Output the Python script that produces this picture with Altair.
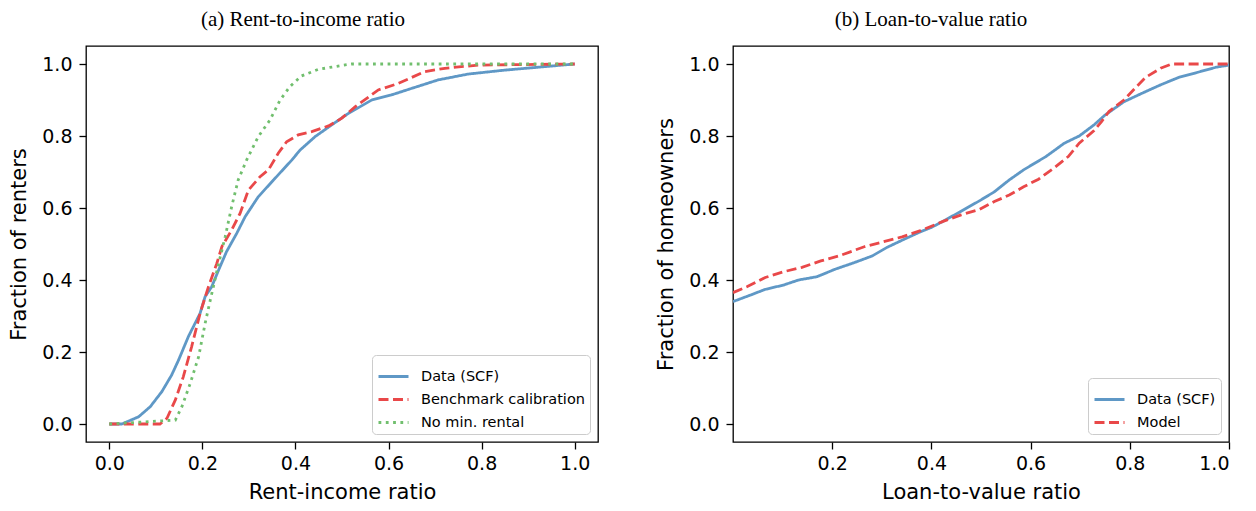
import altair as alt
import pandas as pd

# ---------- Panel (a): Rent-to-income ratio ----------
scf_a_x = [0.0, 0.027, 0.063, 0.088, 0.113, 0.134, 0.149, 0.170, 0.195, 0.206, 0.220, 0.235,
           0.252, 0.274, 0.292, 0.320, 0.353, 0.392, 0.410, 0.442, 0.478, 0.514, 0.564,
           0.606, 0.649, 0.707, 0.771, 0.850, 0.921, 1.0]
scf_a_y = [0.0, 0.0, 0.02, 0.048, 0.09, 0.136, 0.178, 0.243, 0.307, 0.354, 0.381, 0.428,
           0.479, 0.530, 0.576, 0.631, 0.678, 0.733, 0.761, 0.798, 0.831, 0.863, 0.900,
           0.914, 0.932, 0.956, 0.972, 0.983, 0.991, 1.0]

bench_x = [0.0, 0.109, 0.124, 0.142, 0.159, 0.177, 0.195, 0.213, 0.231, 0.242, 0.263, 0.281,
           0.299, 0.324, 0.342, 0.363, 0.381, 0.406, 0.435, 0.471, 0.499, 0.528, 0.578,
           0.621, 0.678, 0.721, 0.792, 1.0]
bench_y = [0.0, 0.0, 0.016, 0.067, 0.131, 0.215, 0.307, 0.381, 0.446, 0.493, 0.539, 0.585,
           0.650, 0.687, 0.706, 0.752, 0.784, 0.803, 0.812, 0.828, 0.849, 0.881, 0.928,
           0.946, 0.979, 0.988, 0.997, 1.0]

nomin_x = [0.0, 0.142, 0.156, 0.174, 0.192, 0.206, 0.217, 0.235, 0.249, 0.263, 0.277, 0.295,
           0.320, 0.345, 0.367, 0.388, 0.413, 0.449, 0.499, 0.520, 1.0]
nomin_y = [0.0, 0.011, 0.048, 0.113, 0.187, 0.280, 0.344, 0.446, 0.520, 0.604, 0.678, 0.733,
           0.798, 0.844, 0.900, 0.937, 0.967, 0.985, 0.996, 1.0, 1.0]

# ---------- Panel (b): Loan-to-value ratio ----------
scf_b_x = [0.0, 0.035, 0.065, 0.102, 0.132, 0.169, 0.206, 0.244, 0.281, 0.311, 0.348, 0.378,
           0.400, 0.422, 0.452, 0.497, 0.527, 0.557, 0.586, 0.631, 0.668, 0.698, 0.728,
           0.750, 0.788, 0.825, 0.862, 0.899, 0.937, 0.974, 1.0]
scf_b_y = [0.340, 0.358, 0.374, 0.386, 0.400, 0.409, 0.430, 0.448, 0.467, 0.491, 0.515, 0.534,
           0.546, 0.562, 0.585, 0.620, 0.645, 0.678, 0.706, 0.743, 0.780, 0.800, 0.831,
           0.858, 0.895, 0.919, 0.942, 0.963, 0.977, 0.991, 0.997]

model_x = [0.0, 0.028, 0.065, 0.102, 0.139, 0.177, 0.214, 0.266, 0.303, 0.341, 0.378, 0.422,
           0.460, 0.497, 0.527, 0.557, 0.586, 0.616, 0.646, 0.676, 0.698, 0.728, 0.743,
           0.758, 0.788, 0.810, 0.832, 0.862, 0.884, 1.0]
model_y = [0.365, 0.381, 0.407, 0.423, 0.435, 0.453, 0.467, 0.493, 0.506, 0.520, 0.537, 0.562,
           0.581, 0.596, 0.618, 0.636, 0.659, 0.680, 0.710, 0.743, 0.780, 0.815, 0.840,
           0.868, 0.900, 0.932, 0.963, 0.988, 1.0, 1.0]

series_a = ["Data (SCF)", "Benchmark calibration", "No min. rental"]
series_b = ["Data (SCF)", "Model"]
colors_a = ["#5f98c6", "#e94849", "#71bf6e"]
colors_b = ["#5f98c6", "#e94849"]
dashes_a = [[1, 0], [10, 4.5], [2.8, 4.5]]
dashes_b = [[1, 0], [10, 4.5]]
y_ticks = [0.0, 0.2, 0.4, 0.6, 0.8, 1.0]
x_ticks_a = [0.0, 0.2, 0.4, 0.6, 0.8, 1.0]
x_ticks_b = [0.2, 0.4, 0.6, 0.8, 1.0]


def frame(xs, ys, name):
    return pd.DataFrame({"x": xs, "y": ys, "series": name, "order": list(range(len(xs)))})


df_a = pd.concat([frame(scf_a_x, scf_a_y, series_a[0]),
                  frame(bench_x, bench_y, series_a[1]),
                  frame(nomin_x, nomin_y, series_a[2])], ignore_index=True)
df_b = pd.concat([frame(scf_b_x, scf_b_y, series_b[0]),
                  frame(model_x, model_y, series_b[1])], ignore_index=True)

FONT = "DejaVu Sans"


def panel(df, names, colors, dashes, xdom, xticks, xtitle, ytitle, title, width, dx):
    legend = alt.Legend(title=None, orient="bottom-right", offset=8,
                        fillColor="rgba(255,255,255,0.8)", strokeColor="#cccccc",
                        cornerRadius=4, padding=5, labelFont=FONT, labelFontSize=14.5,
                        labelColor="black", labelLimit=400, symbolType="stroke",
                        symbolSize=900, symbolStrokeWidth=2.8, rowPadding=-5, labelOffset=11)
    return alt.Chart(df).mark_line(strokeWidth=2.8, clip=True).encode(
        x=alt.X("x:Q", scale=alt.Scale(domain=xdom, nice=False, zero=False),
                axis=alt.Axis(values=xticks, format=".1f", title=xtitle, grid=False,
                              domain=False, tickColor="black", tickWidth=1.3, tickSize=7,
                              labelFont=FONT, labelFontSize=19, labelColor="black",
                              labelPadding=5, titleFont=FONT, titleFontSize=21,
                              titleFontWeight="normal", titleColor="black",
                              titlePadding=8)),
        y=alt.Y("y:Q", scale=alt.Scale(domain=[-0.05, 1.05], nice=False, zero=False),
                axis=alt.Axis(values=y_ticks, format=".1f", title=ytitle, grid=False,
                              domain=False, tickColor="black", tickWidth=1.3, tickSize=7,
                              labelFont=FONT, labelFontSize=19, labelColor="black",
                              labelPadding=7, titleFont=FONT, titleFontSize=21,
                              titleFontWeight="normal", titleColor="black",
                              titlePadding=12)),
        color=alt.Color("series:N", scale=alt.Scale(domain=names, range=colors), legend=legend),
        strokeDash=alt.StrokeDash("series:N", scale=alt.Scale(domain=names, range=dashes),
                                  legend=legend),
        order="order:Q",
    ).properties(
        width=width, height=396,
        title=alt.TitleParams(title, font="Liberation Serif", fontSize=21,
                              fontWeight="normal", color="black", anchor="middle",
                              frame="group", dx=dx, offset=16),
    )


left = panel(df_a, series_a, colors_a, dashes_a, [-0.05, 1.05], x_ticks_a,
             "Rent-income ratio", "Fraction of renters", "(a) Rent-to-income ratio", 512, -39)
right = panel(df_b, series_b, colors_b, dashes_b, [0.0, 1.0], x_ticks_b,
              "Loan-to-value ratio", "Fraction of homeowners", "(b) Loan-to-value ratio", 496, -50)

chart = alt.hconcat(left, right, spacing=56).resolve_scale(
    color="independent", strokeDash="independent"
).resolve_legend(
    color="independent", strokeDash="independent"
).properties(
    padding=0, background="white"
).configure_view(
    stroke="black", strokeWidth=1.3
)

chart.save("out.html", embed_options={"renderer": "svg", "actions": False})
